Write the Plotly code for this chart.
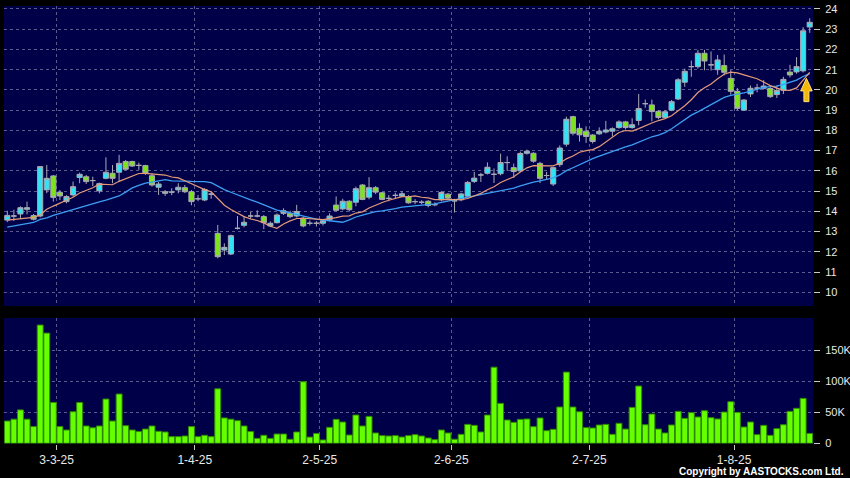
import pandas as pd
import plotly.graph_objects as go

# ---------------- data ----------------
hk_holidays = ["2025-04-04", "2025-04-18", "2025-04-21", "2025-05-01", "2025-05-05", "2025-07-01"]
dates = [d for d in pd.bdate_range("2025-02-19", "2025-08-18")
         if d.strftime("%Y-%m-%d") not in hk_holidays]

open_ = [13.57, 13.77, 13.87, 14.10, 13.79, 13.77, 15.06, 15.75, 14.94, 14.48,
         14.81, 15.67, 15.71, 15.52, 15.01, 15.63, 15.88, 15.93, 16.46, 16.46,
         16.27, 16.26, 15.76, 15.19, 14.97, 14.95, 15.06, 15.17, 14.97, 14.62,
         14.56, 14.85, 12.91, 12.09, 11.89, 13.16, 13.31, 13.77, 13.77, 13.74,
         13.28, 13.44, 14.03, 13.90, 13.77, 13.66, 13.41, 13.41, 13.41, 13.58,
         14.31, 14.12, 14.50, 14.45, 15.30, 14.70, 15.17, 14.92, 14.64, 14.79,
         14.75, 14.72, 14.48, 14.45, 14.50, 14.33, 14.57, 14.85, 14.52, 14.57,
         14.75, 15.48, 15.80, 15.88, 15.83, 15.86, 16.41, 16.16, 16.00, 16.87,
         16.87, 16.37, 15.77, 15.35, 16.31, 17.32, 18.68, 18.10, 17.96, 17.77,
         17.83, 17.92, 17.96, 18.14, 18.42, 18.14, 18.49, 19.32, 19.26, 18.94,
         18.64, 19.00, 19.55, 20.38, 21.15, 21.15, 21.81, 21.24, 21.00, 21.20,
         20.57, 19.93, 19.00, 19.80, 20.09, 20.08, 20.07, 19.77, 19.98, 20.88,
         20.89, 20.94, 23.11]
high = [14.03, 14.08, 14.25, 14.48, 13.87, 16.24, 16.29, 15.80, 15.05, 14.80,
        15.47, 15.91, 15.80, 15.71, 15.42, 16.67, 16.29, 16.79, 16.54, 16.50,
        16.41, 16.30, 15.88, 15.45, 15.05, 15.14, 15.39, 15.30, 15.05, 14.80,
        15.15, 15.00, 13.33, 12.42, 12.85, 13.77, 13.77, 13.97, 14.05, 13.82,
        13.50, 13.90, 14.15, 14.03, 14.32, 13.74, 13.55, 13.52, 13.60, 13.90,
        14.74, 14.62, 14.55, 15.22, 15.35, 15.69, 15.25, 14.95, 14.80, 14.92,
        15.00, 14.80, 14.60, 14.55, 14.55, 14.45, 15.00, 14.90, 14.62, 14.92,
        15.50, 15.95, 15.90, 16.42, 16.12, 16.85, 16.72, 16.36, 16.95, 17.05,
        16.92, 16.45, 15.95, 16.20, 17.26, 18.68, 18.72, 18.35, 18.20, 17.82,
        18.15, 18.47, 18.15, 18.50, 18.47, 18.60, 19.80, 19.52, 19.52, 19.00,
        19.00, 19.50, 20.58, 21.05, 21.45, 21.97, 21.98, 21.90, 21.73, 21.75,
        20.98, 20.10, 19.55, 20.22, 20.30, 20.48, 20.22, 20.22, 20.65, 21.24,
        21.62, 23.10, 23.54]
low = [13.47, 13.52, 13.62, 13.85, 13.55, 13.70, 14.90, 14.48, 14.56, 14.40,
       14.73, 15.39, 15.35, 15.25, 14.89, 15.58, 15.39, 15.47, 16.04, 16.20,
       16.05, 15.80, 15.22, 14.81, 14.76, 14.80, 14.89, 14.90, 14.30, 14.50,
       14.50, 14.62, 11.68, 11.84, 11.84, 13.10, 13.21, 13.62, 13.70, 13.12,
       13.22, 13.40, 13.82, 13.66, 13.70, 13.21, 13.30, 13.25, 13.30, 13.50,
       14.00, 14.05, 14.00, 14.25, 14.55, 14.59, 14.85, 14.55, 14.50, 14.62,
       14.70, 14.38, 14.35, 14.35, 14.20, 14.25, 14.50, 14.55, 13.94, 14.50,
       14.70, 15.40, 15.45, 15.82, 15.40, 15.78, 16.00, 15.65, 15.95, 16.80,
       16.40, 15.40, 15.55, 15.25, 16.20, 17.20, 17.75, 17.45, 17.38, 17.35,
       17.78, 17.85, 17.70, 18.08, 18.05, 18.08, 18.25, 19.12, 18.45, 18.55,
       18.58, 18.95, 19.50, 20.15, 20.65, 21.05, 20.97, 20.95, 20.75, 20.72,
       19.77, 19.00, 18.98, 19.65, 19.88, 20.02, 19.60, 19.60, 19.80, 20.62,
       20.80, 20.86, 22.82]
close = [13.80, 13.77, 14.18, 14.18, 13.61, 16.21, 15.63, 14.69, 14.76, 14.73,
         15.22, 15.83, 15.47, 15.52, 15.37, 15.93, 15.63, 16.37, 16.08, 16.24,
         16.27, 15.88, 15.30, 15.35, 14.89, 14.95, 15.19, 14.97, 14.48, 14.62,
         15.08, 14.85, 11.76, 12.22, 12.80, 13.16, 13.46, 13.77, 13.77, 13.44,
         13.41, 13.82, 13.90, 13.74, 13.99, 13.28, 13.41, 13.41, 13.54, 13.77,
         14.05, 14.50, 14.08, 15.12, 14.59, 15.17, 14.95, 14.59, 14.64, 14.79,
         14.87, 14.42, 14.48, 14.45, 14.29, 14.33, 14.93, 14.65, 14.52, 14.86,
         15.43, 15.64, 15.80, 16.18, 15.83, 16.41, 16.41, 15.97, 16.86, 16.97,
         16.48, 15.63, 15.77, 16.16, 17.13, 18.55, 17.86, 17.78, 17.70, 17.45,
         17.95, 18.02, 18.08, 18.42, 18.14, 18.28, 19.08, 19.32, 18.93, 18.64,
         18.92, 19.42, 20.50, 20.92, 21.15, 21.81, 21.43, 21.24, 21.48, 20.87,
         19.93, 19.09, 19.50, 20.08, 20.09, 20.19, 19.67, 19.97, 20.52, 20.74,
         21.15, 22.92, 23.34]
volume_k = [36, 39, 54, 39, 27, 191, 178, 66, 27, 21.5,
            51, 66, 28, 25, 28, 71.5, 36, 79.6, 28.5, 21.5,
            19, 23, 28, 19.4, 18.3, 10.8, 10.8, 11.8, 27, 10.8,
            13, 10.8, 88, 41, 39, 36.6, 28, 19, 8, 13,
            8, 15, 15, 6.5, 18.3, 99.5, 10, 16, 5.4, 25.8,
            38.7, 34.4, 13.4, 45.7, 28, 43.5, 16.7, 12.4, 11.8, 12.4,
            10.2, 12.4, 14, 11.8, 8.6, 5.9, 21.5, 16.7, 6.5, 14.5,
            30.6, 29, 18.3, 45.7, 123, 64.5, 37.6, 33.9, 38.7, 39.3,
            26.9, 40.9, 20.4, 22.6, 58.6, 115, 58.6, 51, 25.3, 24.7,
            29.6, 30.6, 14.5, 32.3, 23, 58, 92.5, 30, 47.3, 23,
            16.7, 29.6, 51.6, 40.3, 49.5, 42.5, 52.7, 41.4, 39.3, 50.5,
            67.2, 50, 26.3, 34.4, 14, 29, 12.9, 23.7, 30, 51.6,
            56.5, 72.6, 16]
# moving-average values at the left edge (their windows start before the visible range)
ma10_head = [13.57, 13.60, 13.63, 13.66, 13.70, 13.82, 14.10, 14.26, 14.40]
ma20_head = [13.22, 13.27, 13.32, 13.37, 13.45, 13.60, 13.68, 13.80, 13.90, 13.99,
             14.08, 14.20, 14.30, 14.40, 14.47, 14.55, 14.64, 14.76, 14.95]
price_ticks = list(range(10, 25))
volume_tickvals = [0, 50000, 100000, 150000]
volume_ticktext = ["0", "50K", "100K", "150K"]
copyright_text = "Copyright by AASTOCKS.com Ltd."

# ---------------- derived ----------------
n = len(dates)
x = list(range(n))
closes = pd.Series(close)
ma10 = closes.rolling(10).mean().tolist()
ma20 = closes.rolling(20).mean().tolist()
ma10[:len(ma10_head)] = ma10_head
ma20[:len(ma20_head)] = ma20_head
volume = [v * 1000 for v in volume_k]

month_first = []
seen = set()
for i, d in enumerate(dates):
    key = (d.year, d.month)
    if key not in seen:
        seen.add(key)
        if i > 0:
            month_first.append(i)
tickvals = [i - 0.5 for i in month_first]
ticktext = [f"{dates[i].day}-{dates[i].month}-{dates[i].strftime('%y')}" for i in month_first]

# ---------------- figure ----------------
W, H = 850, 478
BG = "#000048"
GRID = "#5a5a8c"
WICK = "#a9a9b4"
FONT = "Liberation Sans, Arial, sans-serif"

fig = go.Figure()
fig.add_trace(go.Scatter(x=x, y=ma20, mode="lines", line=dict(color="#3c9ef2", width=1.3),
                         hoverinfo="skip", showlegend=False))
fig.add_trace(go.Scatter(x=x, y=ma10, mode="lines", line=dict(color="#e59a78", width=1.2),
                         hoverinfo="skip", showlegend=False))
fig.add_trace(go.Candlestick(
    x=x, open=open_, high=high, low=low, close=close,
    increasing=dict(fillcolor="#2fe4f4", line=dict(color=WICK, width=1)),
    decreasing=dict(fillcolor="#7de31c", line=dict(color=WICK, width=1)),
    whiskerwidth=0, showlegend=False))
fig.add_trace(go.Bar(x=x, y=volume, xaxis="x2", yaxis="y2",
                     marker=dict(color="#66ff00", line=dict(color="#2f8a00", width=1)),
                     showlegend=False))

x0, x1 = 4 / W, 813 / W
top_dom = [1 - 306 / H, 1 - 6 / H]
vol_dom = [1 - 443.5 / H, 1 - 318 / H]

grid_common = dict(showline=False, zeroline=False, gridcolor=GRID, griddash="3px,3px",
                   gridwidth=1, automargin=False)
tick_x = dict(tickcolor="#c8c8c8", ticklen=5, tickwidth=1,
              tickfont=dict(color="#e8e8e8", size=12, family=FONT))
tick_y = dict(tickcolor="#c8c8c8", ticklen=6, tickwidth=1, ticklabelstandoff=3,
              tickfont=dict(color="#e8e8e8", size=11, family=FONT))

fig.update_layout(
    width=W, height=H, autosize=False,
    margin=dict(l=0, r=0, t=0, b=0, pad=0),
    paper_bgcolor="#000000", plot_bgcolor=BG,
    bargap=0.1, boxgap=0.12, boxgroupgap=0.12,
    xaxis=dict(domain=[x0, x1], range=[-0.5, n - 0.5], anchor="y",
               tickvals=tickvals, showticklabels=False, ticks="",
               rangeslider=dict(visible=False), **grid_common),
    xaxis2=dict(domain=[x0, x1], range=[-0.5, n - 0.5], anchor="y2", matches="x",
                tickvals=tickvals, ticktext=ticktext, ticks="outside",
                **grid_common, **tick_x),
    yaxis=dict(domain=top_dom, range=[9.323, 24.146], side="right", anchor="x",
               tickvals=price_ticks, ticks="outside", **grid_common, **tick_y),
    yaxis2=dict(domain=vol_dom, range=[-300, 202400], side="right", anchor="x2",
                tickvals=volume_tickvals, ticktext=volume_ticktext, ticks="outside",
                **grid_common, **tick_y),
    annotations=[dict(text=f"<b>{copyright_text}</b>", xref="paper", yref="paper",
                      x=846 / W, y=1 - 471 / H, xanchor="right", yanchor="middle",
                      showarrow=False, font=dict(color="#ffffff", size=10, family=FONT))],
)

# gold up-arrow marker beside the last candles
ax = n - 1.5
tip, base, bottom = 20.57, 19.95, 19.42
hw, sw = 0.88, 0.38
path = (f"M {ax} {tip} L {ax + hw} {base} L {ax + sw} {base} L {ax + sw} {bottom} "
        f"L {ax - sw} {bottom} L {ax - sw} {base} L {ax - hw} {base} Z")
fig.add_shape(type="path", path=path, xref="x", yref="y",
              fillcolor="#f3b808", line=dict(color="#ffe27a", width=1))

fig.write_html("out.html", config={"displayModeBar": False},
               post_script="document.body.style.margin='0';document.body.style.overflow='hidden';")
